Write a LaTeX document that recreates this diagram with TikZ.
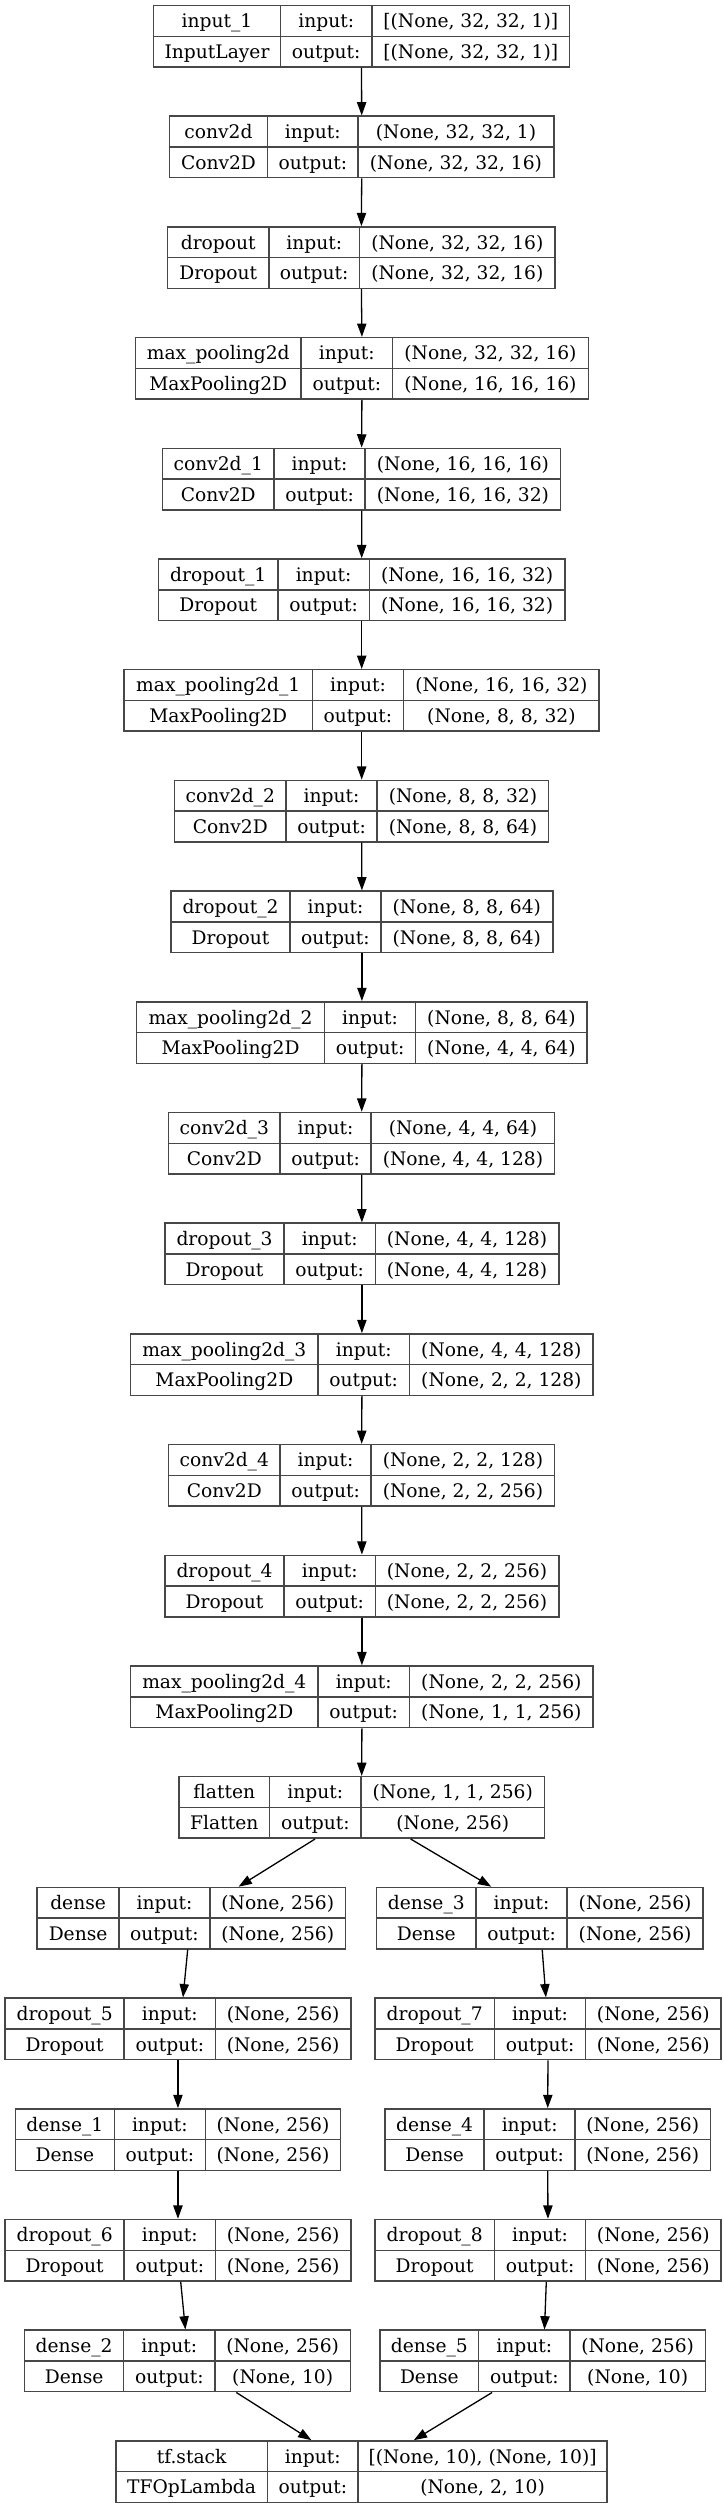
\documentclass[tikz,border=0pt]{standalone}
\usepackage{fontspec}
\setmainfont{DejaVu Serif}
\usetikzlibrary{arrows.meta}
\tikzset{
  box/.style={rectangle, draw=black!72, line width=1.5pt, inner sep=0pt, minimum height=61.5pt},
  cellline/.style={draw=black!72, line width=1.5pt},
  lbl/.style={anchor=base, inner sep=0pt, font=\fontsize{18.67}{22}\selectfont},
  arr/.style={-{Triangle[length=13.3pt,width=9.3pt]}, line width=1.3pt, draw=black}
}
\newcommand\layer[9]{\def\Lname{#1}\def\Ltop{#2}\def\La{#3}\def\Lb{#4}\def\Lc{#5}\def\Ld{#6}\def\LA{#7}\def\LB{#8}\def\Lin{#9}\layerfinish}
\newcommand\layerfinish[1]{%
  \pgfmathsetmacro\Lxc{(\La+\Ld)/2}%
  \pgfmathsetmacro\Lw{\Ld-\La}%
  \pgfmathsetmacro\Lyc{\Ltop+30.75}%
  \pgfmathsetmacro\Lbot{\Ltop+61.5}%
  \pgfmathsetmacro\Lba{\Ltop+22.2}%
  \pgfmathsetmacro\Lbb{\Ltop+52.9}%
  \pgfmathsetmacro\Lxa{(\La+\Lb)/2}%
  \pgfmathsetmacro\Lxb{(\Lb+\Lc)/2}%
  \pgfmathsetmacro\Lxd{(\Lc+\Ld)/2}%
  \node[box, minimum width=\Lw pt] (\Lname) at (\Lxc,\Lyc) {};
  \draw[cellline] (\Lb,\Ltop) -- (\Lb,\Lbot);
  \draw[cellline] (\Lc,\Ltop) -- (\Lc,\Lbot);
  \draw[cellline] (\La,\Lyc) -- (\Ld,\Lyc);
  \node[lbl] at (\Lxa,\Lba) {\LA};
  \node[lbl] at (\Lxa,\Lbb) {\LB};
  \node[lbl] at (\Lxb,\Lba) {input:};
  \node[lbl] at (\Lxb,\Lbb) {output:};
  \node[lbl] at (\Lxd,\Lba) {\Lin};
  \node[lbl] at (\Lxd,\Lbb) {#1};
}
\begin{document}
\begin{tikzpicture}[x=1pt,y=-1pt]
\fill[white] (0,0) rectangle (723,2508);
\useasboundingbox (0,0) rectangle (723,2508);
\layer{n0}{5.5}{153.5}{280.5}{372}{569.5}{input\_1}{InputLayer}{[(None, 32, 32, 1)]}{[(None, 32, 32, 1)]}
\layer{n1}{116.2}{169.6}{267.4}{358.2}{553.8}{conv2d}{Conv2D}{(None, 32, 32, 1)}{(None, 32, 32, 16)}
\layer{n2}{226.9}{167.7}{268.8}{359.6}{555.1}{dropout}{Dropout}{(None, 32, 32, 16)}{(None, 32, 32, 16)}
\layer{n3}{337.6}{135.3}{301.2}{392.5}{588.5}{max\_pooling2d}{MaxPooling2D}{(None, 32, 32, 16)}{(None, 16, 16, 16)}
\layer{n4}{448.3}{162.6}{273.9}{365.2}{560.7}{conv2d\_1}{Conv2D}{(None, 16, 16, 16)}{(None, 16, 16, 32)}
\layer{n5}{559.0}{158.5}{278.0}{369.3}{564.9}{dropout\_1}{Dropout}{(None, 16, 16, 32)}{(None, 16, 16, 32)}
\layer{n6}{669.7}{124.2}{312.3}{403.6}{599.2}{max\_pooling2d\_1}{MaxPooling2D}{(None, 16, 16, 32)}{(None, 8, 8, 32)}
\layer{n7}{780.4}{174.7}{285.9}{377.2}{548.7}{conv2d\_2}{Conv2D}{(None, 8, 8, 32)}{(None, 8, 8, 64)}
\layer{n8}{891.1}{171.0}{290.1}{380.9}{552.8}{dropout\_2}{Dropout}{(None, 8, 8, 64)}{(None, 8, 8, 64)}
\layer{n9}{1001.8}{136.7}{324.4}{415.7}{587.1}{max\_pooling2d\_2}{MaxPooling2D}{(None, 8, 8, 64)}{(None, 4, 4, 64)}
\layer{n10}{1112.5}{168.7}{279.9}{371.2}{554.7}{conv2d\_3}{Conv2D}{(None, 4, 4, 64)}{(None, 4, 4, 128)}
\layer{n11}{1223.2}{165.0}{284.1}{375.3}{558.8}{dropout\_3}{Dropout}{(None, 4, 4, 128)}{(None, 4, 4, 128)}
\layer{n12}{1333.9}{130.7}{317.9}{409.6}{593.1}{max\_pooling2d\_3}{MaxPooling2D}{(None, 4, 4, 128)}{(None, 2, 2, 128)}
\layer{n13}{1444.6}{168.7}{279.9}{371.2}{554.7}{conv2d\_4}{Conv2D}{(None, 2, 2, 128)}{(None, 2, 2, 256)}
\layer{n14}{1555.3}{165.0}{284.1}{375.3}{558.8}{dropout\_4}{Dropout}{(None, 2, 2, 256)}{(None, 2, 2, 256)}
\layer{n15}{1666.0}{130.7}{317.9}{409.6}{593.1}{max\_pooling2d\_4}{MaxPooling2D}{(None, 2, 2, 256)}{(None, 1, 1, 256)}
\layer{flatten}{1776.7}{178.9}{269.7}{361.0}{544.5}{flatten}{Flatten}{(None, 1, 1, 256)}{(None, 256)}
\layer{dense}{1887.4}{37.1}{119.1}{209.9}{345.7}{dense}{Dense}{(None, 256)}{(None, 256)}
\layer{densethree}{1887.4}{376.7}{475.9}{567.2}{703.0}{dense\_3}{Dense}{(None, 256)}{(None, 256)}
\layer{dropfive}{1998.1}{5.1}{124.2}{215.5}{350.8}{dropout\_5}{Dropout}{(None, 256)}{(None, 256)}
\layer{dropseven}{1998.1}{374.9}{494.4}{585.7}{721.0}{dropout\_7}{Dropout}{(None, 256)}{(None, 256)}
\layer{denseone}{2108.8}{15.3}{114.5}{205.3}{340.6}{dense\_1}{Dense}{(None, 256)}{(None, 256)}
\layer{densefour}{2108.8}{385.1}{484.2}{575.1}{710.4}{dense\_4}{Dense}{(None, 256)}{(None, 256)}
\layer{dropsix}{2219.5}{5.1}{124.2}{215.5}{350.8}{dropout\_6}{Dropout}{(None, 256)}{(None, 256)}
\layer{dropeight}{2219.5}{374.9}{494.4}{585.7}{721.0}{dropout\_8}{Dropout}{(None, 256)}{(None, 256)}
\layer{densetwo}{2330.2}{24.6}{123.7}{215.0}{350.3}{dense\_2}{Dense}{(None, 256)}{(None, 10)}
\layer{densefive}{2330.2}{380.0}{478.7}{570.0}{705.3}{dense\_5}{Dense}{(None, 256)}{(None, 10)}
\layer{tfstack}{2440.9}{115.8}{267.4}{358.2}{607.0}{tf.stack}{TFOpLambda}{[(None, 10), (None, 10)]}{(None, 2, 10)}
% main chain
\foreach \a/\b in {n0/n1,n1/n2,n2/n3,n3/n4,n4/n5,n5/n6,n6/n7,n7/n8,n8/n9,n9/n10,n10/n11,n11/n12,n12/n13,n13/n14,n14/n15,n15/flatten}
  \draw[arr] (\a.south) -- (\b.north);
% branches
\draw[arr] ([xshift=-46.6pt]flatten.south) -- ([xshift=47.2pt]dense.north);
\draw[arr] ([xshift=48.9pt]flatten.south) -- ([xshift=-48.65pt]densethree.north);
\draw[arr] ([xshift=-3.7pt]dense.south) -- ([xshift=5.05pt]dropfive.north);
\draw[arr] ([xshift=2.35pt]densethree.south) -- ([xshift=-2.05pt]dropseven.north);
\draw[arr] (dropfive.south) -- (denseone.north);
\draw[arr] (dropseven.south) -- (densefour.north);
\draw[arr] (denseone.south) -- (dropsix.north);
\draw[arr] (densefour.south) -- (dropeight.north);
\draw[arr] ([xshift=2.75pt]dropsix.south) -- ([xshift=-2.05pt]densetwo.north);
\draw[arr] ([xshift=-1.65pt]dropeight.south) -- ([xshift=1.85pt]densefive.north);
\draw[arr] ([xshift=48.85pt]densetwo.south) -- ([xshift=-50pt]tfstack.north);
\draw[arr] ([xshift=-50.55pt]densefive.south) -- ([xshift=52.4pt]tfstack.north);
\end{tikzpicture}
\end{document}
